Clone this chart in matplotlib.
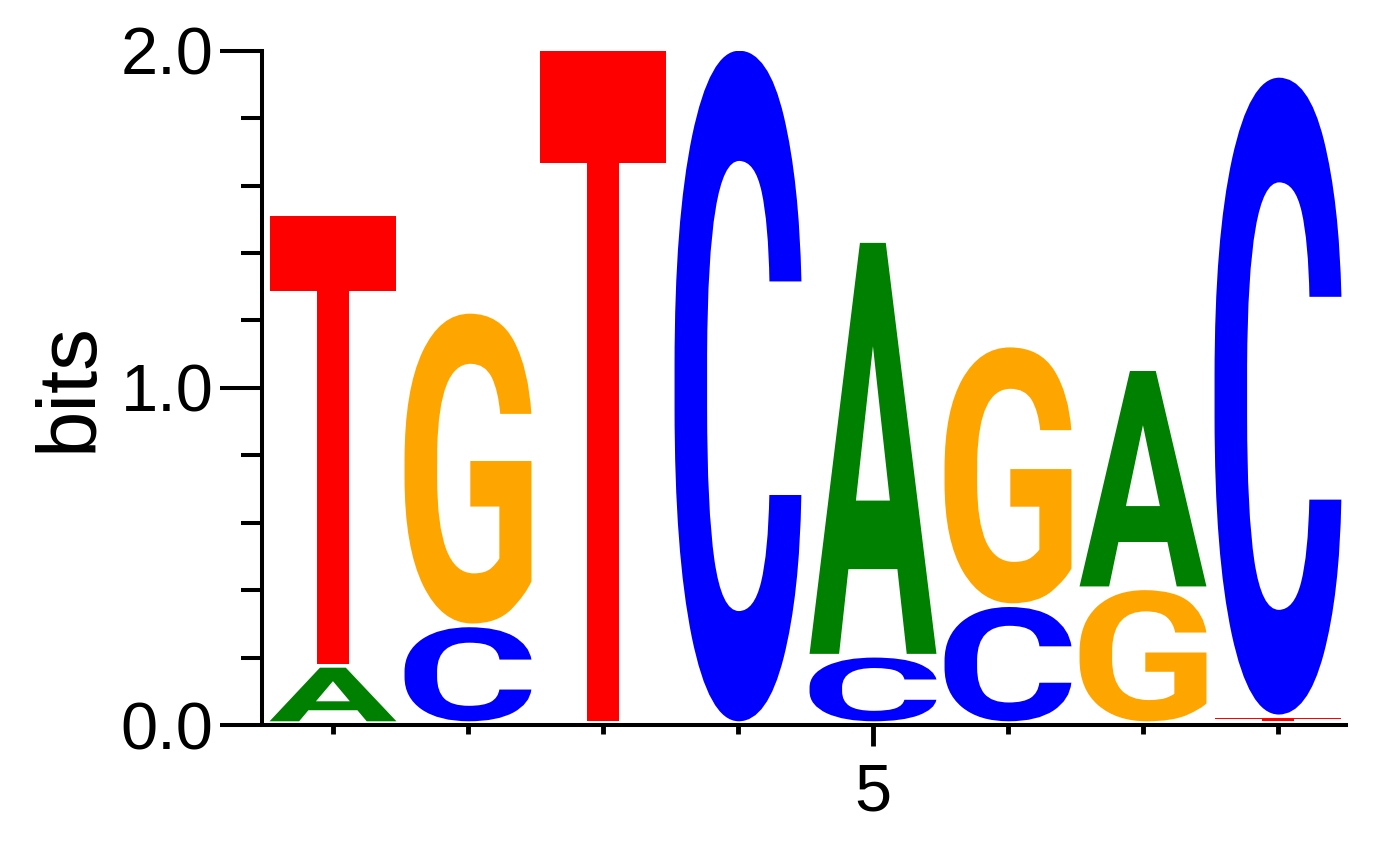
import matplotlib
matplotlib.use("Agg")
import matplotlib.pyplot as plt
from matplotlib.textpath import TextPath
from matplotlib.patches import PathPatch
from matplotlib.font_manager import FontProperties
from matplotlib.transforms import Affine2D

# Data: letters stacked bottom -> top at each position, with heights in bits
positions = [1, 2, 3, 4, 5, 6, 7, 8]
letters = [["A", "T"], ["C", "G"], ["T"], ["C"], ["C", "A"], ["C", "G"], ["G", "A"], ["T", "C"]]
heights = [[0.17, 1.34], [0.29, 0.93], [2.00], [2.00], [0.20, 1.23], [0.35, 0.77], [0.40, 0.65], [0.02, 1.90]]
colors = {"A": "#008000", "C": "#0000FF", "G": "#FFA500", "T": "#FF0000"}
yticks_major = [0.0, 1.0, 2.0]
yticklabels = ["0.0", "1.0", "2.0"]

W, H = 1392, 842
fig = plt.figure(figsize=(W / 100, H / 100), dpi=100)
ax = fig.add_axes([265.5 / W, (H - 725) / H, 1080 / W, 674.3 / H])

fp = FontProperties(family="Roboto", weight="bold")
letter_w = 0.94
gap = 0.011

for pos, lets, hs in zip(positions, letters, heights):
    base = 0.0
    for L, h in zip(lets, hs):
        tp = TextPath((0, 0), L, size=1, prop=fp)
        ext = tp.get_extents()
        y0 = base + gap
        hh = max(h - gap, 0.004)
        tr = (Affine2D().translate(-ext.x0, -ext.y0)
              .scale(letter_w / ext.width, hh / ext.height)
              .translate(pos - letter_w / 2, y0))
        path = tr.transform_path(tp)
        ax.add_patch(PathPatch(path, facecolor=colors[L], edgecolor="none"))
        base += h

ax.set_xlim(0.5, 8.5)
ax.set_ylim(0, 2)

for s in ["top", "right"]:
    ax.spines[s].set_visible(False)
ax.spines["left"].set_linewidth(2.9)
ax.spines["bottom"].set_linewidth(2.9)
ax.spines["left"].set_position(("outward", 2.5))
ax.spines["left"].set_capstyle("projecting")

# y ticks
ax.set_yticks(yticks_major)
ax.set_yticklabels(yticklabels)
ax.set_yticks([0.2 * i for i in range(11) if i % 5 != 0], minor=True)
ax.tick_params(axis="y", which="major", length=30, width=2.9, labelsize=48, pad=5)
ax.tick_params(axis="y", which="minor", length=15, width=2.9)

# x ticks
ax.set_xticks([5])
ax.set_xticklabels(["5"])
ax.set_xticks([p for p in positions if p != 5], minor=True)
ax.tick_params(axis="x", which="major", length=15, width=3.5, labelsize=48, pad=12)
ax.tick_params(axis="x", which="minor", length=6.5, width=3.5)

for lab in ax.get_xticklabels() + ax.get_yticklabels():
    lab.set_fontfamily("Liberation Sans")

fig.text(70 / W, 1 - 387 / H, "bits", rotation=90, ha="center", va="center",
         fontsize=60, fontfamily="Liberation Sans")

fig.savefig("out.png", dpi=100)
